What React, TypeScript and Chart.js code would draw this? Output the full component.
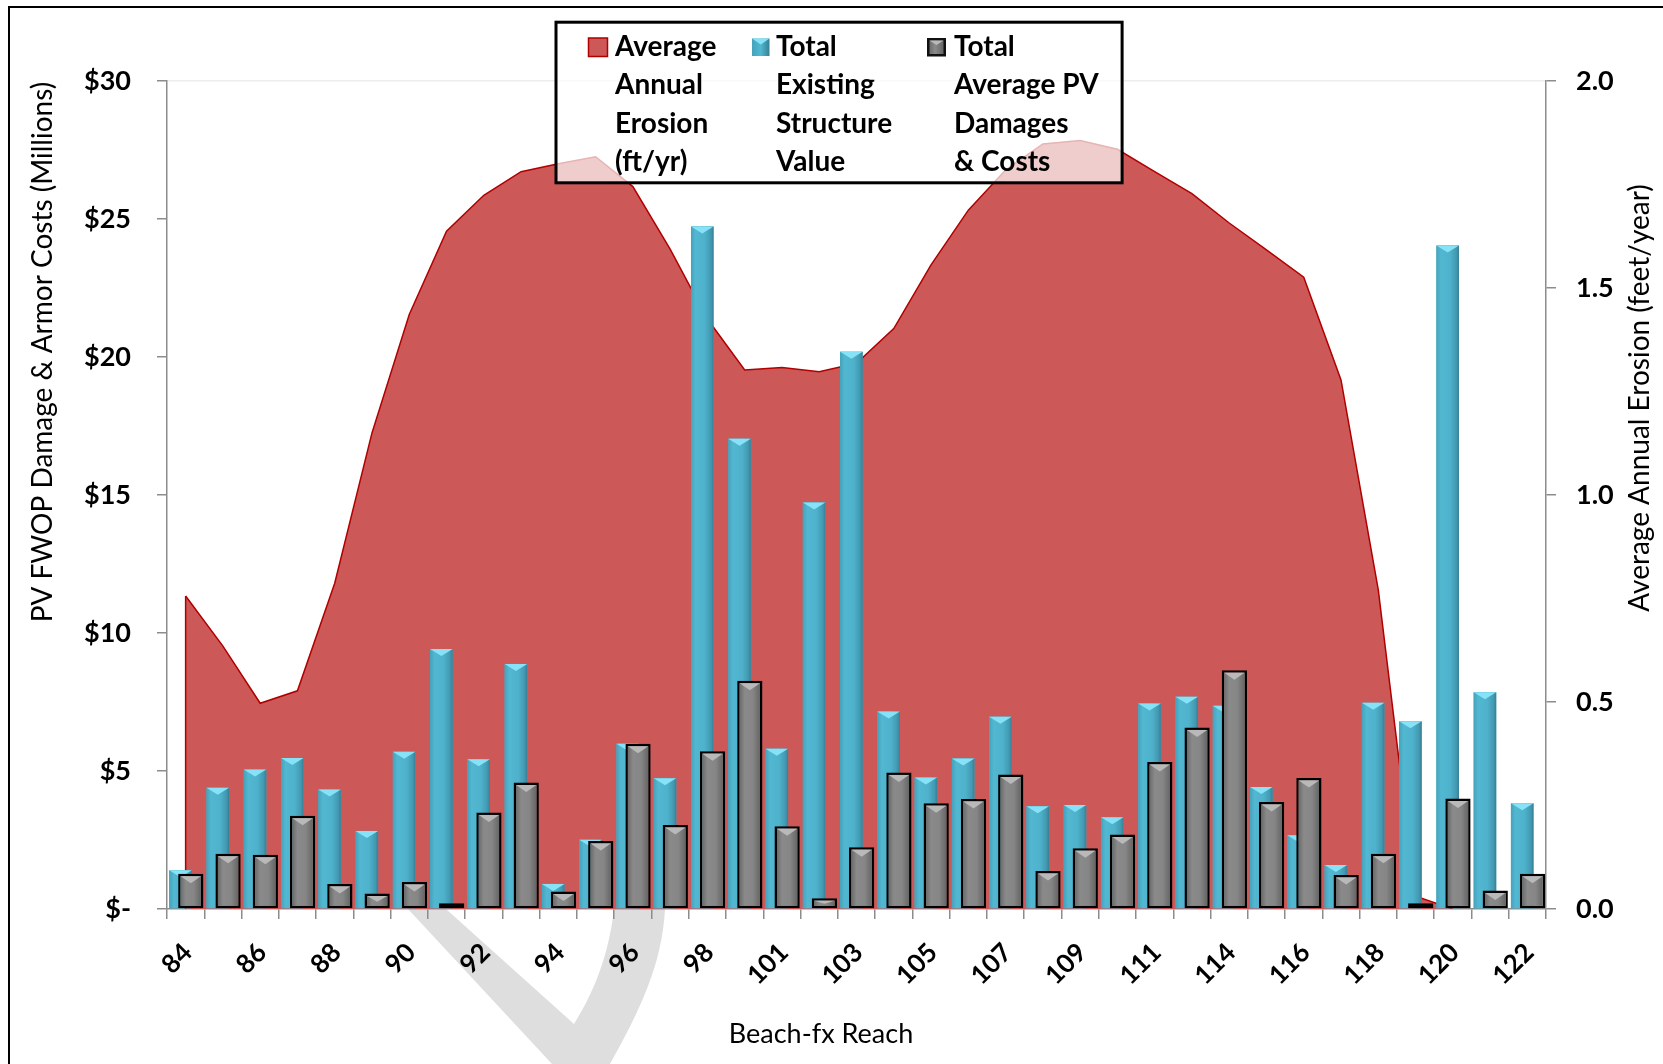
import React, { useEffect, useRef } from 'react';
import { Chart, registerables } from 'chart.js';

Chart.register(...registerables);

// ---------- data ----------
const reaches = [
  '84', '85', '86', '87', '88', '89', '90', '91', '92', '93', '94', '95', '96', '97', '98', '99',
  '101', '102', '103', '104', '105', '106', '107', '108', '109', '110', '111', '112',
  '114', '115', '116', '117', '118', '119', '120', '121', '122',
];

// Total Existing Structure Value ($ millions)
const structureValue = [
  1.40, 4.39, 5.05, 5.47, 4.33, 2.83, 5.70, 9.42, 5.43, 8.88, 0.91, 2.51, 5.99, 4.74, 24.73, 17.04,
  5.81, 14.73, 20.19, 7.16, 4.76, 5.45, 6.97, 3.72, 3.77, 3.32, 7.45, 7.69,
  7.36, 4.42, 2.67, 1.59, 7.47, 6.80, 24.04, 7.85, 3.83,
];

// Total Average PV Damages & Costs ($ millions)
const pvDamages = [
  1.28, 2.00, 1.97, 3.38, 0.91, 0.56, 0.98, 0.21, 3.50, 4.58, 0.63, 2.46, 5.99, 3.04, 5.72, 8.27,
  3.00, 0.39, 2.24, 4.95, 3.83, 3.99, 4.87, 1.38, 2.20, 2.70, 5.33, 6.58,
  8.65, 3.88, 4.75, 1.23, 2.00, 0.21, 4.00, 0.67, 1.28,
];

// Average Annual Erosion (ft/yr)
const erosion: (number | null)[] = [
  0.756, 0.635, 0.497, 0.527, 0.787, 1.150, 1.436, 1.637, 1.724, 1.781, 1.800, 1.817, 1.745, 1.594, 1.425, 1.302,
  1.308, 1.298, 1.318, 1.402, 1.556, 1.688, 1.785, 1.848, 1.856, 1.835, 1.781, 1.728,
  1.657, 1.592, 1.526, 1.278, 0.771, 0.031, 0, null, null,
];

const seriesNames = [
  'Average Annual Erosion (ft/yr)',
  'Total Existing Structure Value',
  'Total Average PV Damages & Costs',
];
const legendLines = [
  ['Average', 'Annual', 'Erosion', '(ft/yr)'],
  ['Total', 'Existing', 'Structure', 'Value'],
  ['Total', 'Average PV', 'Damages', '& Costs'],
];
const leftAxisTitle = 'PV FWOP Damage & Armor Costs (Millions)';
const rightAxisTitle = 'Average Annual Erosion (feet/year)';
const xAxisTitle = 'Beach-fx Reach';

// ---------- styles ----------
const FONT = 'Lato';
const AREA_FILL = '#CD5858';
const AREA_LINE = '#B00000';
const BLUE = '#4BACC6';
const GRAY = '#808080';
const AXIS = '#8c8c8c';
const CAT_PCT = 0.553;

const bevelPlugin = {
  id: 'bevel',
  afterDatasetDraw(chart: any, args: any) {
    const ds = chart.data.datasets[args.index];
    const ctx = chart.ctx as CanvasRenderingContext2D;
    if (ds.areaEdge) {
      // closing vertical edge at the start of the area
      const first = args.meta.data[0];
      const yScale = chart.scales[ds.yAxisID];
      if (first && yScale) {
        ctx.save();
        ctx.strokeStyle = AREA_LINE;
        ctx.lineWidth = 1.5;
        ctx.beginPath();
        ctx.moveTo(first.x, first.y);
        ctx.lineTo(first.x, yScale.getPixelForValue(0));
        ctx.stroke();
        ctx.restore();
      }
      return;
    }
    const kind = ds.bevel;
    if (!kind) return;
    ctx.save();
    for (const el of args.meta.data) {
      const p = el.getProps(['x', 'y', 'base', 'width'], true);
      if (!isFinite(p.y) || !isFinite(p.base)) continue;
      const bw = kind === 'gray' ? 2.5 : 0;
      const l = p.x - p.width / 2 + bw;
      const r = p.x + p.width / 2 - bw;
      const t = Math.min(p.y, p.base) + bw;
      const b = Math.max(p.y, p.base) - bw;
      if (r <= l || b <= t) continue;
      const g = ctx.createLinearGradient(l, 0, r, 0);
      if (kind === 'blue') {
        g.addColorStop(0, '#45a2bb');
        g.addColorStop(0.2, '#52b7d1');
        g.addColorStop(0.6, '#4fb2cc');
        g.addColorStop(0.88, '#4299b1');
        g.addColorStop(1, '#377f94');
      } else {
        g.addColorStop(0, '#6c6c6c');
        g.addColorStop(0.25, '#8a8a8a');
        g.addColorStop(0.65, '#868686');
        g.addColorStop(1, '#666666');
      }
      ctx.fillStyle = g;
      ctx.fillRect(l, t, r - l, b - t);
      const h = Math.min(7, (b - t) * 0.6);
      ctx.beginPath();
      ctx.moveTo(l, t);
      ctx.lineTo(r, t);
      ctx.lineTo((l + r) / 2, t + h);
      ctx.closePath();
      ctx.fillStyle = kind === 'blue' ? '#86e2f6' : '#b9b9b9';
      ctx.fill();
    }
    ctx.restore();
  },
};

// light-gray page watermark fragment (decoration behind the chart)
const watermarkPlugin = {
  id: 'watermark',
  beforeDraw(chart: any) {
    const ctx = chart.ctx as CanvasRenderingContext2D;
    ctx.save();
    ctx.fillStyle = '#dedede';
    ctx.beginPath();
    ctx.moveTo(408, 909);
    ctx.lineTo(552, 1064);
    ctx.lineTo(610, 1064);
    ctx.bezierCurveTo(640, 1010, 662, 965, 665, 909);
    ctx.lineTo(614, 909);
    ctx.bezierCurveTo(608, 960, 592, 995, 574, 1024);
    ctx.lineTo(446, 909);
    ctx.closePath();
    ctx.fill();
    ctx.restore();
  },
};

const decorPlugin = {
  id: 'decor',
  afterDraw(chart: any) {
    const ctx = chart.ctx as CanvasRenderingContext2D;
    ctx.save();
    // outer frame (top & left edges visible in crop)
    ctx.strokeStyle = '#000';
    ctx.lineWidth = 2;
    ctx.beginPath();
    ctx.moveTo(9, 1064);
    ctx.lineTo(9, 7);
    ctx.lineTo(1663, 7);
    ctx.stroke();

    // axis titles
    ctx.fillStyle = '#000';
    ctx.font = `28px ${FONT}`;
    ctx.textAlign = 'center';
    ctx.textBaseline = 'middle';
    ctx.save();
    ctx.translate(43, 352);
    ctx.rotate(-Math.PI / 2);
    ctx.fillText(leftAxisTitle, 0, 0);
    ctx.restore();
    ctx.save();
    ctx.translate(1640, 398);
    ctx.rotate(-Math.PI / 2);
    ctx.fillText(rightAxisTitle, 0, 0);
    ctx.restore();
    ctx.textBaseline = 'alphabetic';
    ctx.font = `27px ${FONT}`;
    ctx.fillText(xAxisTitle, 821, 1043);

    // legend box
    ctx.fillStyle = 'rgba(255,255,255,0.7)';
    ctx.fillRect(556, 22.2, 566.1, 160.6);
    ctx.lineWidth = 3;
    ctx.strokeStyle = '#000';
    ctx.strokeRect(556, 22.2, 566.1, 160.6);

    // swatches
    ctx.fillStyle = AREA_FILL;
    ctx.fillRect(588.5, 38, 19, 18.5);
    ctx.lineWidth = 1.5;
    ctx.strokeStyle = AREA_LINE;
    ctx.strokeRect(588.5, 38, 19, 18.5);

    const bl = 752, bt = 38.5, bwid = 17.5, bh = 17.5;
    let g = ctx.createLinearGradient(bl, 0, bl + bwid, 0);
    g.addColorStop(0, '#45a2bb');
    g.addColorStop(0.5, '#52b7d1');
    g.addColorStop(1, '#377f94');
    ctx.fillStyle = g;
    ctx.fillRect(bl, bt, bwid, bh);
    ctx.beginPath();
    ctx.moveTo(bl, bt);
    ctx.lineTo(bl + bwid, bt);
    ctx.lineTo(bl + bwid / 2, bt + 6);
    ctx.closePath();
    ctx.fillStyle = '#86e2f6';
    ctx.fill();

    const gl = 927, gt = 38, gw = 19, gh = 18.5;
    ctx.fillStyle = '#111';
    ctx.fillRect(gl, gt, gw, gh);
    g = ctx.createLinearGradient(gl + 2.5, 0, gl + gw - 2.5, 0);
    g.addColorStop(0, '#6c6c6c');
    g.addColorStop(0.4, '#8a8a8a');
    g.addColorStop(1, '#666');
    ctx.fillStyle = g;
    ctx.fillRect(gl + 2.5, gt + 2.5, gw - 5, gh - 5);
    ctx.beginPath();
    ctx.moveTo(gl + 2.5, gt + 2.5);
    ctx.lineTo(gl + gw - 2.5, gt + 2.5);
    ctx.lineTo(gl + gw / 2, gt + 7);
    ctx.closePath();
    ctx.fillStyle = '#b9b9b9';
    ctx.fill();

    // legend text
    ctx.fillStyle = '#000';
    ctx.font = `bold 28px ${FONT}`;
    ctx.textAlign = 'left';
    ctx.textBaseline = 'alphabetic';
    const colX = [615, 776, 954];
    legendLines.forEach((lines, c) => {
      lines.forEach((txt, k) => {
        ctx.fillText(txt, colX[c], 56 + k * 38.3);
      });
    });
    ctx.restore();
  },
};

export default function App() {
  const ref = useRef<HTMLCanvasElement | null>(null);

  useEffect(() => {
    if (!ref.current) return;
    const tickFont = { family: FONT, size: 27, weight: 'bold' as const };
    const chart = new Chart(ref.current, {
      type: 'bar',
      data: {
        labels: reaches,
        datasets: [
          {
            type: 'line',
            label: seriesNames[0],
            data: erosion,
            yAxisID: 'y1',
            fill: 'origin',
            backgroundColor: AREA_FILL,
            borderColor: AREA_LINE,
            borderWidth: 1.5,
            pointRadius: 0,
            tension: 0,
            order: 3,
            areaEdge: true,
          } as any,
          {
            type: 'bar',
            label: '',
            data: reaches.map(() => null),
            yAxisID: 'y',
            stack: 'sv',
            order: 0,
            categoryPercentage: CAT_PCT,
            barPercentage: 1,
          } as any,
          {
            type: 'bar',
            label: seriesNames[2],
            data: pvDamages,
            yAxisID: 'y',
            stack: 'pv',
            order: 1,
            backgroundColor: GRAY,
            borderColor: '#000',
            borderWidth: 2.5,
            borderSkipped: false,
            categoryPercentage: CAT_PCT,
            barPercentage: 2.45,
            bevel: 'gray',
          } as any,
          {
            type: 'bar',
            label: seriesNames[1],
            data: structureValue,
            yAxisID: 'y',
            stack: 'sv',
            order: 2,
            backgroundColor: BLUE,
            borderWidth: 0,
            categoryPercentage: CAT_PCT,
            barPercentage: 2.19,
            bevel: 'blue',
          } as any,
        ],
      },
      options: {
        responsive: false,
        maintainAspectRatio: false,
        animation: false,
        devicePixelRatio: 1,
        layout: { padding: { top: 81, left: 0, right: 0, bottom: 0 } },
        plugins: {
          legend: { display: false },
          tooltip: { enabled: false },
          title: { display: false },
        },
        scales: {
          x: {
            type: 'category',
            offset: true,
            grid: {
              display: true,
              drawOnChartArea: false,
              drawTicks: true,
              tickLength: 10,
              color: AXIS,
              lineWidth: 1.5,
              offset: true,
            },
            border: { display: true, color: AXIS, width: 1.5 },
            ticks: {
              autoSkip: false,
              maxRotation: 45,
              minRotation: 45,
              padding: 18,
              labelOffset: 2,
              color: '#000',
              font: { family: FONT, size: 26, weight: 'bold' },
              callback: (_v: any, i: number) => (i % 2 === 0 ? reaches[i] : ''),
            },
            afterFit: (s: any) => {
              s.height = 155;
            },
          },
          y: {
            position: 'left',
            min: 0,
            max: 30,
            stacked: false,
            ticks: {
              stepSize: 5,
              padding: 26,
              color: '#000',
              font: tickFont,
              callback: (v: any) => (Number(v) === 0 ? '$-' : '$' + v),
            },
            grid: {
              drawOnChartArea: true,
              drawTicks: true,
              tickLength: 10,
              tickColor: AXIS,
              lineWidth: 1.5,
              color: (c: any) => (c.tick && c.tick.value === 30 ? '#ededed' : 'rgba(0,0,0,0)'),
            },
            border: { display: true, color: AXIS, width: 1.5 },
            afterFit: (s: any) => {
              s.width = 167;
            },
          },
          y1: {
            position: 'right',
            min: 0,
            max: 2,
            stacked: false,
            ticks: {
              stepSize: 0.5,
              padding: 20,
              color: '#000',
              font: tickFont,
              callback: (v: any) => Number(v).toFixed(1),
            },
            grid: {
              drawOnChartArea: false,
              drawTicks: true,
              tickLength: 10,
              color: AXIS,
              lineWidth: 1.5,
            },
            border: { display: true, color: AXIS, width: 1.5 },
            afterFit: (s: any) => {
              s.width = 117;
            },
          },
        },
      },
      plugins: [watermarkPlugin, bevelPlugin, decorPlugin],
    } as any);
    return () => chart.destroy();
  }, []);

  return (
    <div style={{ position: 'fixed', left: 0, top: 0, width: 1663, height: 1064, background: '#fff' }}>
      <canvas ref={ref} width={1663} height={1064} style={{ display: 'block', width: 1663, height: 1064 }} />
    </div>
  );
}
